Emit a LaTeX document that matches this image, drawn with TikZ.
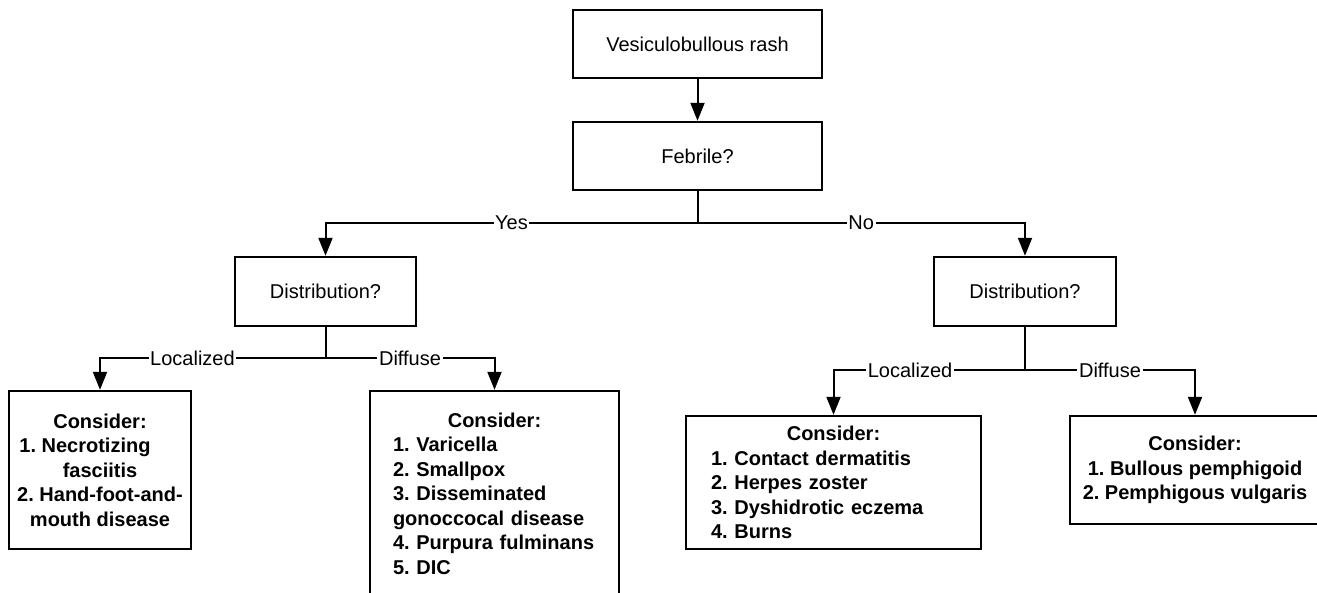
\documentclass[tikz,border=0pt]{standalone}
\usepackage{fontspec}
\setmainfont{Liberation Sans}
\usepackage{tikz}
\usetikzlibrary{positioning,arrows.meta}
\frenchspacing
\hyphenpenalty=10000

\begin{document}
\begin{tikzpicture}[
        x=0.5pt, y=-0.5pt,
        font=\fontsize{10}{12.25}\selectfont,
        >={Triangle[length=9pt, width=7pt]},
        box/.style={rectangle, draw, line width=1.2pt, align=center},
        cons/.style={box, font=\fontsize{10}{12.25}\selectfont\bfseries},
        lbl/.style={fill=white, inner sep=0.8pt},
        link/.style={line width=1pt},
    ]
        \useasboundingbox (0,0) rectangle (1317,593);

        \node[box, minimum width=124.5pt, minimum height=34pt] (rash) at (697.5,44) {Vesiculobullous rash};
        \node[box, minimum width=124.5pt, minimum height=34pt] (febrile) at (697.5,156) {Febrile?};
        \node[box, minimum width=90.5pt, minimum height=34.5pt] (distyes) at (325.5,291.5) {Distribution?};
        \node[box, minimum width=91pt, minimum height=34.5pt] (distno) at (1025,291.5) {Distribution?};

        % febrile
        \node[cons, minimum width=91pt, minimum height=79pt] (locyes) at (100,470)
            {Consider:\\\hbox{1. Necrotizing\kern15pt}\\fasciitis\\2. Hand-foot-and-\\mouth disease};
        \node[cons, align=left, text width=101.5pt, minimum width=124.5pt, minimum height=102.5pt] (diffyes) at (494.5,493.5)
            {\makebox[\hsize]{Consider:}\\1. Varicella\\2. Smallpox\\3. Disseminated\\gonoccocal disease\\4. Purpura fulminans\\5. DIC};

        % afebrile
        \node[cons, align=left, text width=122.5pt, minimum width=147.5pt, minimum height=66.5pt] (locno) at (833.5,482.5)
            {\makebox[\hsize]{Consider:}\\1. Contact dermatitis\\2. Herpes zoster\\3. Dyshidrotic eczema\\4. Burns};
        \node[cons, minimum width=125pt, minimum height=54pt] (diffno) at (1195,470)
            {Consider:\\1. Bullous pemphigoid\\2. Pemphigous vulgaris};

        \coordinate (forkfeb) at (697.5,223);
        \coordinate (forkyes) at (325.5,358);
        \coordinate (forkno) at (1025,370);

        \draw[->, link] (rash) -- (febrile);
        \draw[link] (febrile) -- (forkfeb);
        \draw[->, link] (forkfeb) -| node[lbl, pos=0.25] {Yes} (distyes.north);
        \draw[->, link] (forkfeb) -| node[lbl, pos=0.25] {No} (distno.north);

        \draw[link] (distyes) -- (forkyes);
        \draw[->, link] (forkyes) -| node[lbl, pos=0.295] {Localized} (locyes.north);
        \draw[->, link] (forkyes) -| node[lbl, pos=0.25] {Diffuse} (diffyes.north);

        \draw[link] (distno) -- (forkno);
        \draw[->, link] (forkno) -| node[lbl, pos=0.3] {Localized} (locno.north);
        \draw[->, link] (forkno) -| node[lbl, pos=0.25] {Diffuse} (diffno.north);
    \end{tikzpicture}
\end{document}
